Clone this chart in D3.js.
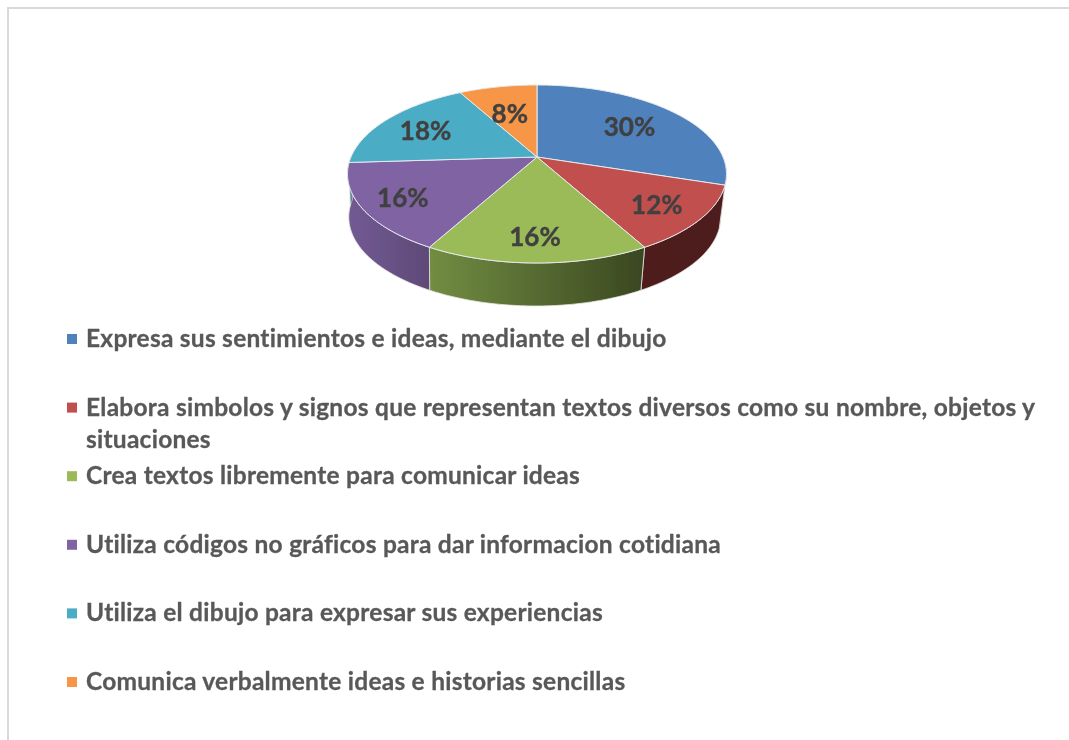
<!DOCTYPE html>
<html><head><meta charset="utf-8">
<script src="https://cdnjs.cloudflare.com/ajax/libs/d3/7.8.5/d3.min.js"></script>
<style>html,body{margin:0;padding:0;background:#fff}svg{display:block}text{font-variant-ligatures:none}</style>
</head><body><div id="c"></div>
<script>
const categories = [
  "Expresa sus sentimientos e ideas, mediante el dibujo",
  "Elabora simbolos y signos que representan textos diversos como su nombre, objetos y situaciones",
  "Crea textos libremente para comunicar ideas",
  "Utiliza códigos no gráficos para dar informacion cotidiana",
  "Utiliza el dibujo para expresar sus experiencias",
  "Comunica verbalmente ideas e historias sencillas"
];
const percentages = [30, 12, 16, 16, 18, 8];
const topColors = ["#4f81bd", "#c0504d", "#9bbb59", "#8064a2", "#4bacc6", "#f79646"];
const sideLeftColors = ["#2f4d71", "#4f1f1e", "#728d42", "#735a94", "#2d6776", "#94591f"];
const sideRightColors = ["#2f4d71", "#4d1e1d", "#3a4720", "#5e4a78", "#2d6776", "#94591f"];
const labelNudgeX = [0, 17, -2, -23, -10, 0];
const labelNudgeY = [0, 8, 14, 7, -1, 5];

const W = 1069, H = 740;
const svg = d3.select("#c").append("svg").attr("width", W).attr("height", H)
  .style("font-family", "Lato, 'Open Sans', sans-serif");
const defs = svg.append("defs");
defs.append("filter").attr("id", "soft").append("feGaussianBlur").attr("stdDeviation", 0.4);

// frame
svg.append("path").attr("d", `M8,${H}V8H${W}`).attr("fill", "none").attr("stroke", "#d9d9d9").attr("stroke-width", 2);

// perspective projection of a unit disc
const cx = 537, cy = 157, a = 186, b = 85.75, k = 0.191, depth = 43;
const project = (r, t, drop) => {
  const u = r * Math.sin(t), v = r * Math.cos(t), w = 1 + k * v;
  const s = drop ? (u < 0 ? 0.988 : 0.975) : 1;
  return [cx + s * a * u / w - (drop ? 1 : 0), cy - b * v / w + (drop ? depth : 0)];
};
const arcs = d3.pie().sort(null).value(d => d)(percentages);
const line = d3.line();
const sample = (a0, a1, drop) => d3.range(0, 61).map(i => project(1, a0 + (a1 - a0) * i / 60, drop));

const g = svg.append("g").attr("filter", "url(#soft)");

// side walls, only the near half of the disc shows
arcs.forEach((d, i) => {
  const a0 = Math.max(d.startAngle, Math.PI / 2), a1 = Math.min(d.endAngle, Math.PI * 1.5);
  if (a1 <= a0) return;
  const id = "side" + i;
  const top = sample(a0, a1, false), bot = sample(a1, a0, true);
  const gr = defs.append("linearGradient").attr("id", id).attr("gradientUnits", "userSpaceOnUse")
    .attr("x1", d3.min(top, p => p[0])).attr("x2", d3.max(top, p => p[0])).attr("y1", 0).attr("y2", 0);
  gr.append("stop").attr("offset", 0).attr("stop-color", sideLeftColors[i]);
  gr.append("stop").attr("offset", 1).attr("stop-color", sideRightColors[i]);
  g.append("path").attr("d", line(top.concat(bot)) + "Z").attr("fill", `url(#${id})`)
    .attr("stroke", "#e4e4e0").attr("stroke-width", 0.8).attr("stroke-linejoin", "round");
});

// top face
arcs.forEach((d, i) => {
  const pts = [project(0, 0, false)].concat(sample(d.startAngle, d.endAngle, false));
  g.append("path").attr("d", line(pts) + "Z").attr("fill", topColors[i])
    .attr("stroke", "#e6e9ee").attr("stroke-width", 1).attr("stroke-linejoin", "round");
});

// data labels
arcs.forEach((d, i) => {
  const p = project(0.66, (d.startAngle + d.endAngle) / 2, false);
  g.append("text").attr("x", p[0] + labelNudgeX[i]).attr("y", p[1] + labelNudgeY[i])
    .attr("text-anchor", "middle").attr("dominant-baseline", "central")
    .attr("font-size", 26).attr("font-weight", 700).attr("fill", "#404040")
    .attr("stroke", "#404040").attr("stroke-width", 0.4)
    .text(percentages[i] + "%");
});

// legend
const rowY = d3.scalePoint().domain(categories).range([339, 682]);
const maxLine = 960, lineGap = 32;
const legend = svg.append("g").attr("filter", "url(#soft)");
categories.forEach((c, i) => {
  const y = rowY(c);
  legend.append("rect").attr("x", 67).attr("y", y - 5).attr("width", 10).attr("height", 10).attr("fill", topColors[i]);
  const t = legend.append("text").attr("x", 86).attr("font-size", 24.5).attr("letter-spacing", 0.25)
    .attr("font-weight", 700).attr("fill", "#595959")
    .attr("stroke", "#595959").attr("stroke-width", 0.3);
  let ts = t.append("tspan").attr("x", 86).attr("y", y + 8), cur = "", row = 0;
  c.split(" ").forEach(word => {
    const next = cur ? cur + " " + word : word;
    ts.text(next);
    if (ts.node().getComputedTextLength() > maxLine) {
      ts.text(cur); row++;
      ts = t.append("tspan").attr("x", 86).attr("y", y + 8 + row * lineGap).text(word);
      cur = word;
    } else cur = next;
  });
});
</script></body></html>
